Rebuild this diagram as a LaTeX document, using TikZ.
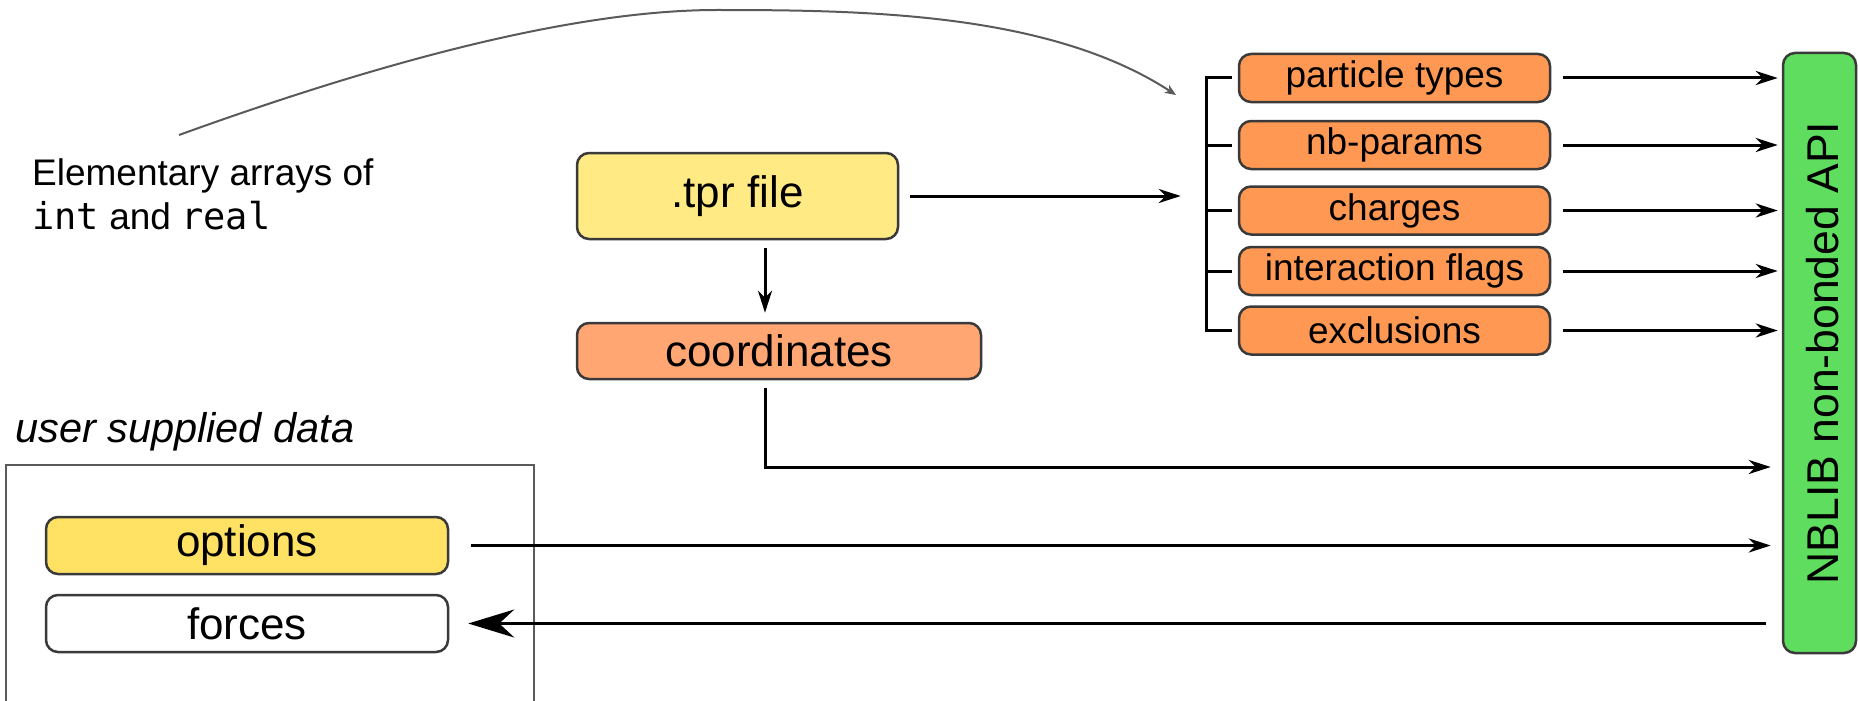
\documentclass[tikz,border=0pt]{standalone}
\usepackage{fontspec}
\setmainfont{Liberation Sans}
\newfontfamily\codefont{DejaVu Sans Mono}
\usetikzlibrary{arrows.meta,calc}

\definecolor{tprfill}{HTML}{FFEA84}
\definecolor{optfill}{HTML}{FFE163}
\definecolor{coordfill}{HTML}{FFA672}
\definecolor{partfill}{HTML}{FF9853}
\definecolor{apifill}{HTML}{5FDD5F}
\definecolor{boxline}{HTML}{3A3A3A}
\definecolor{curvegray}{HTML}{5A5A5A}

\newcommand\setfs[1]{\fontsize{#1}{#1}\selectfont}

\tikzset{
  box/.style={draw=boxline, line width=2.5pt, rounded corners=12pt,
    inner sep=0pt, align=center},
  tprbox/.style={box, fill=tprfill, minimum width=321pt, minimum height=86pt,
    font=\setfs{44}},
  coordbox/.style={box, fill=coordfill, minimum width=404pt, minimum height=56pt,
    font=\setfs{44}},
  partbox/.style={box, fill=partfill, minimum width=311pt, minimum height=48pt,
    font=\setfs{37}},
  userbox/.style={box, minimum width=402pt, minimum height=57pt,
    font=\setfs{44}},
  apibox/.style={box, fill=apifill, minimum width=73pt, minimum height=600pt},
  conn/.style={line width=3pt, draw=black},
  arr/.style={conn, -{Stealth[length=22pt,width=14pt,inset=7pt]}},
  bigarr/.style={conn, -{Stealth[length=46pt,width=28pt,inset=15pt]}},
  grayarr/.style={line width=2pt, draw=curvegray,
    -{Stealth[length=11pt,width=9pt,inset=3pt]}},
  plain/.style={inner sep=0pt, anchor=base west},
}

\begin{document}
\begin{tikzpicture}[x=1pt,y=-1pt]
\useasboundingbox (0,0) rectangle (1858,701);
\clip (0,0) rectangle (1858,701);

% source file and the data read from it
\node[tprbox] (tpr) at (737.5,196) {.tpr file};
\node[coordbox] (coords) at (779,351) {coordinates};

% topology items
\node[partbox] (pt) at (1394.5,78)    {particle types};
\node[partbox] (nb) at (1394.5,145)   {nb-params};
\node[partbox] (ch) at (1394.5,210.5) {charges};
\node[partbox] (fl) at (1394.5,271)   {interaction flags};
\node[partbox] (ex) at (1394.5,330.5) {exclusions};

% library interface
\node[apibox] (api) at (1819.5,353) {};
\node[rotate=90, inner sep=0pt, font=\setfs{44.5}] (apilabel)
  at ($(api.center)+(3.5,0)$) {NBLIB non-bonded API};

% user side
\node[plain, font=\setfs{41.5}\itshape] (usertitle) at (15,442) {user supplied data};
\draw[draw=curvegray, line width=2pt] (6,712) -- (6,465) -- (534,465) -- (534,712);
\node[userbox, fill=optfill] (opts) at (247,545.5) {options};
\node[userbox, fill=white] (forces) at (247,623.5) {forces};

% annotation
\node[plain, font=\setfs{37}] (elem1) at (32,185) {Elementary arrays of};
\node[plain, font=\setfs{37}] (elem2) at (32,229) {{\codefont int} and {\codefont real}};
\coordinate (curvestart) at (179,135);
\coordinate (curvetop) at (717,10);
\coordinate (curveend) at (1176,95);
\draw[grayarr] (curvestart) .. controls (367,67) and (567,10) .. (curvetop)
  .. controls (867,10) and (1050,13) .. (curveend);

% tpr file connections
\draw[arr] ([xshift=27.5pt,yshift=-8pt]tpr.south) -- ([xshift=-14pt,yshift=9pt]coords.north);
\coordinate (brk) at ($(pt.west)!0.5!(ex.west)+(-57pt,0)$);
\draw[arr] ([xshift=11pt]tpr.east) -- (brk |- tpr.east);

% bracket grouping the topology items
\draw[conn] ([xshift=-6pt]pt.west) -- ++(-25pt,0) |- ([xshift=-6pt]ex.west);
\foreach \n in {nb,ch,fl}
  \draw[conn] ([xshift=-6pt]\n.west) -- ++(-25pt,0);

% topology items to the interface
\foreach \n in {pt,nb,ch,fl,ex}
  \draw[arr] ([xshift=12pt]\n.east) -- ([xshift=-4pt]api.west |- \n.east);

% coordinates and options in, forces out
\draw[arr] ([xshift=-14pt,yshift=-8pt]coords.south)
  |- ([xshift=-11pt,yshift=-114pt]api.west);
\draw[arr] ([xshift=22pt]opts.east) -- ([xshift=-11pt]api.west |- opts.east);
\draw[bigarr] ([xshift=-16pt]api.west |- forces.east) -- ([xshift=19pt]forces.east);
\end{tikzpicture}
\end{document}
